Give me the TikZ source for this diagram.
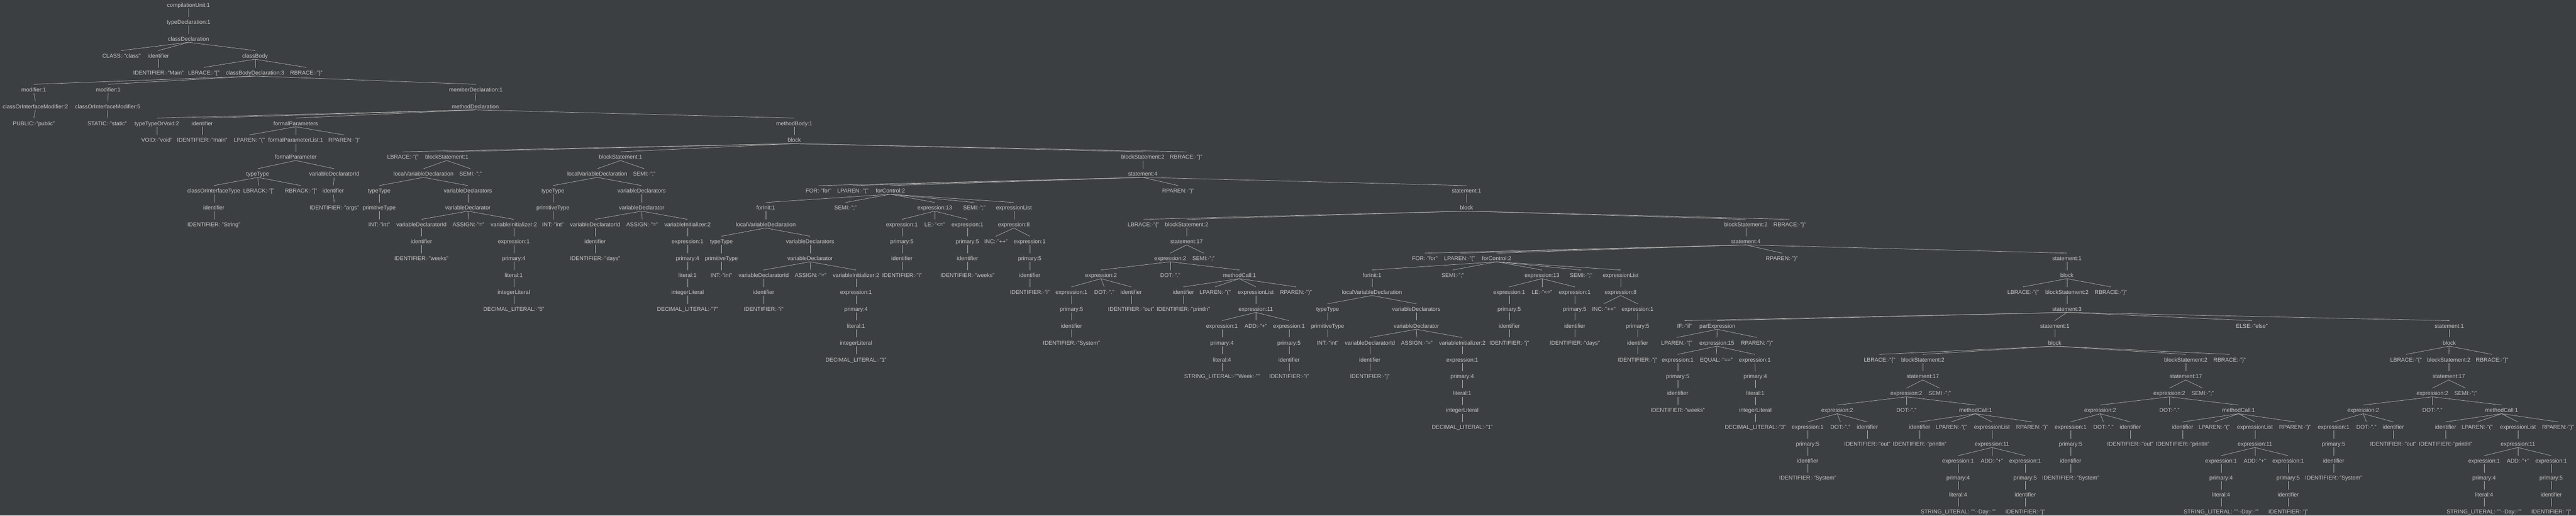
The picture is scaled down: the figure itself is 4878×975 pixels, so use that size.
\documentclass[tikz,border=0pt]{standalone}
\usepackage{fontspec}
\setmainfont{Liberation Sans}
\definecolor{bgcol}{HTML}{3C3F41}
\definecolor{txtcol}{HTML}{C4C4C4}
\definecolor{edgecol}{HTML}{B0B0B0}
\tikzset{
  tn/.style={font=\fontsize{10.6}{12}\selectfont, text=txtcol, anchor=base, inner sep=0pt, text height=13.5pt, text depth=2.5pt},
  ed/.style={draw=edgecol, line width=0.7pt}
}
\newcommand\tnd[4]{\node[tn] (#1) at ({#2},{ly(#3)}) {#4};}
\newcommand\edg[2]{\draw[ed] (#1.south) -- (#2.north);}
\newcommand\tkc[5]{\tnd{#1}{#2}{#3}{#4}\edg{#5}{#1}}
% localVariableDeclaration subtree: prefix, parent, level, x, id text, value text
\newcommand\mkdecl[6]{%
 \tkc{#1l}{#4}{#3}{localVariableDeclaration}{#2}
 \tkc{#1t}{#4-84}{#3+1}{typeType}{#1l}
 \tkc{#1v}{#4+84}{#3+1}{variableDeclarators}{#1l}
 \tkc{#1pt}{#4-84}{#3+2}{primitiveType}{#1t}
 \tkc{#1vd}{#4+84}{#3+2}{variableDeclarator}{#1v}
 \tkc{#1int}{#4-84}{#3+3}{INT:·"int"}{#1pt}
 \tkc{#1vdi}{#4-4}{#3+3}{variableDeclaratorId}{#1vd}
 \tkc{#1as}{#4+85}{#3+3}{ASSIGN:·"="}{#1vd}
 \tkc{#1vi}{#4+171}{#3+3}{variableInitializer:2}{#1vd}
 \tkc{#1id}{#4-4}{#3+4}{identifier}{#1vdi}
 \tkc{#1e}{#4+171}{#3+4}{expression:1}{#1vi}
 \tkc{#1idt}{#4-4}{#3+5}{#5}{#1id}
 \tkc{#1p}{#4+171}{#3+5}{primary:4}{#1e}
 \tkc{#1li}{#4+171}{#3+6}{literal:1}{#1p}
 \tkc{#1il}{#4+171}{#3+7}{integerLiteral}{#1li}
 \tkc{#1dec}{#4+171}{#3+8}{#6}{#1il}
}
% System.out.println(...) statement subtree: prefix, parent, level, x, string, var
\newcommand\mkprint[6]{%
 \tkc{#1s}{#4}{#3}{statement:17}{#2}
 \tkc{#1e}{#4-31}{#3+1}{expression:2}{#1s}
 \tkc{#1sm}{#4+32}{#3+1}{SEMI:·";"}{#1s}
 \tkc{#1x}{#4-162}{#3+2}{expression:2}{#1e}
 \tkc{#1d}{#4-31}{#3+2}{DOT:·"."}{#1e}
 \tkc{#1m}{#4+100}{#3+2}{methodCall:1}{#1e}
 \tkc{#1xa}{#4-218}{#3+3}{expression:1}{#1x}
 \tkc{#1xd}{#4-156}{#3+3}{DOT:·"."}{#1x}
 \tkc{#1xi}{#4-105}{#3+3}{identifier}{#1x}
 \tkc{#1mi}{#4-6}{#3+3}{identifier}{#1m}
 \tkc{#1ml}{#4+54}{#3+3}{LPAREN:·"("}{#1m}
 \tkc{#1me}{#4+131}{#3+3}{expressionList}{#1m}
 \tkc{#1mr}{#4+207}{#3+3}{RPAREN:·")"}{#1m}
 \tkc{#1xap}{#4-218}{#3+4}{primary:5}{#1xa}
 \tkc{#1xit}{#4-105}{#3+4}{IDENTIFIER:·"out"}{#1xi}
 \tkc{#1mit}{#4-6}{#3+4}{IDENTIFIER:·"println"}{#1mi}
 \tkc{#1mee}{#4+131}{#3+4}{expression:11}{#1me}
 \tkc{#1xapi}{#4-218}{#3+5}{identifier}{#1xap}
 \tkc{#1a}{#4+67}{#3+5}{expression:1}{#1mee}
 \tkc{#1ad}{#4+131}{#3+5}{ADD:·"+"}{#1mee}
 \tkc{#1b}{#4+194}{#3+5}{expression:1}{#1mee}
 \tkc{#1sys}{#4-218}{#3+6}{IDENTIFIER:·"System"}{#1xapi}
 \tkc{#1ap}{#4+67}{#3+6}{primary:4}{#1a}
 \tkc{#1bp}{#4+194}{#3+6}{primary:5}{#1b}
 \tkc{#1al}{#4+67}{#3+7}{literal:4}{#1ap}
 \tkc{#1bi}{#4+194}{#3+7}{identifier}{#1bp}
 \tkc{#1str}{#4+67}{#3+8}{#5}{#1al}
 \tkc{#1var}{#4+194}{#3+8}{#6}{#1bi}
}
\begin{document}
\begin{tikzpicture}[x=1pt,y=-1pt,declare function={ly(\k)=13.5+31.93*\k;}]
\fill[bgcol] (0,0) rectangle (4878,975);
\useasboundingbox (0,0) rectangle (4878,975);
\tnd{n0}{357}{0}{compilationUnit:1}
\tkc{n1}{357}{1}{typeDeclaration:1}{n0}
\tkc{n2}{357}{2}{classDeclaration}{n1}
\tkc{cls}{230}{3}{CLASS:·"class"}{n2}
\tkc{cid}{300}{3}{identifier}{n2}
\tkc{cbody}{483}{3}{classBody}{n2}
\tkc{cidT}{300}{4}{IDENTIFIER:·"Main"}{cid}
\tkc{cbL}{386}{4}{LBRACE:·"\{"}{cbody}
\tkc{cbd}{483}{4}{classBodyDeclaration:3}{cbody}
\tkc{cbR}{580}{4}{RBRACE:·"\}"}{cbody}
\tkc{mod1}{64}{5}{modifier:1}{cbd}
\tkc{mod2}{205}{5}{modifier:1}{cbd}
\tkc{memb}{901}{5}{memberDeclaration:1}{cbd}
\tkc{coim1}{67}{6}{classOrInterfaceModifier:2}{mod1}
\tkc{coim2}{204}{6}{classOrInterfaceModifier:5}{mod2}
\tkc{mdecl}{900}{6}{methodDeclaration}{memb}
\tkc{pub}{64}{7}{PUBLIC:·"public"}{coim1}
\tkc{sta}{203}{7}{STATIC:·"static"}{coim2}
\tkc{ttv}{297}{7}{typeTypeOrVoid:2}{mdecl}
\tkc{mid}{383}{7}{identifier}{mdecl}
\tkc{fps}{560}{7}{formalParameters}{mdecl}
\tkc{mbody}{1504}{7}{methodBody:1}{mdecl}
\tkc{voidT}{297}{8}{VOID:·"void"}{ttv}
\tkc{midT}{383}{8}{IDENTIFIER:·"main"}{mid}
\tkc{fpL}{472}{8}{LPAREN:·"("}{fps}
\tkc{fpl}{560}{8}{formalParameterList:1}{fps}
\tkc{fpR}{652}{8}{RPAREN:·")"}{fps}
\tkc{blk}{1504}{8}{block}{mbody}
\tkc{fp}{560}{9}{formalParameter}{fpl}
\tkc{bL}{763}{9}{LBRACE:·"\{"}{blk}
\tkc{bs1}{846}{9}{blockStatement:1}{blk}
\tkc{bs2}{1175}{9}{blockStatement:1}{blk}
\tkc{bs3}{2164}{9}{blockStatement:2}{blk}
\tkc{bR}{2246}{9}{RBRACE:·"\}"}{blk}
\tkc{fpt}{488}{10}{typeType}{fp}
\tkc{fpv}{633}{10}{variableDeclaratorId}{fp}
\mkdecl{Da}{bs1}{10}{802}{IDENTIFIER:·"weeks"}{DECIMAL\_LITERAL:·"5"}
\tkc{semi1}{891}{10}{SEMI:·";"}{bs1}
\mkdecl{Db}{bs2}{10}{1131}{IDENTIFIER:·"days"}{DECIMAL\_LITERAL:·"7"}
\tkc{semi2}{1220}{10}{SEMI:·";"}{bs2}
\tkc{st4}{2164}{10}{statement:4}{bs3}
\tkc{coit}{405}{11}{classOrInterfaceType}{fpt}
\tkc{lbk}{490}{11}{LBRACK:·"["}{fpt}
\tkc{rbk}{570}{11}{RBRACK:·"]"}{fpt}
\tkc{fpvid}{631}{11}{identifier}{fpv}
\tkc{coitid}{405}{12}{identifier}{coit}
\tkc{argsT}{633}{12}{IDENTIFIER:·"args"}{fpvid}
\tkc{strT}{405}{13}{IDENTIFIER:·"String"}{coitid}
% outer for
\tkc{for1}{1550}{11}{FOR:·"for"}{st4}
\tkc{lp1}{1615}{11}{LPAREN:·"("}{st4}
\tkc{fc1}{1686}{11}{forControl:2}{st4}
\tkc{rp1}{2231}{11}{RPAREN:·")"}{st4}
\tkc{st1a}{2777}{11}{statement:1}{st4}
\tkc{fi1}{1450}{12}{forInit:1}{fc1}
\tkc{fs1}{1601}{12}{SEMI:·";"}{fc1}
\tkc{fe13}{1770}{12}{expression:13}{fc1}
\tkc{fs2}{1845}{12}{SEMI:·";"}{fc1}
\tkc{fel}{1920}{12}{expressionList}{fc1}
\tkc{blk2}{2777}{12}{block}{st1a}
\mkdecl{Dc}{fi1}{13}{1450}{IDENTIFIER:·"i"}{DECIMAL\_LITERAL:·"1"}
\tkc{fe1a}{1708}{13}{expression:1}{fe13}
\tkc{le1}{1770}{13}{LE:·"<="}{fe13}
\tkc{fe1b}{1832}{13}{expression:1}{fe13}
\tkc{fe8}{1920}{13}{expression:8}{fel}
\tkc{b2L}{2165}{13}{LBRACE:·"\{"}{blk2}
\tkc{bs4}{2247}{13}{blockStatement:2}{blk2}
\tkc{bs5}{3306}{13}{blockStatement:2}{blk2}
\tkc{b2R}{3389}{13}{RBRACE:·"\}"}{blk2}
\tkc{fe1ap}{1708}{14}{primary:5}{fe1a}
\tkc{fe1bp}{1832}{14}{primary:5}{fe1b}
\tkc{inc1}{1886}{14}{INC:·"++"}{fe8}
\tkc{fe8e}{1950}{14}{expression:1}{fe8}
\mkprint{Pa}{bs4}{14}{2247}{STRING\_LITERAL:·""Week:·""}{IDENTIFIER:·"i"}
\tkc{st4b}{3306}{14}{statement:4}{bs5}
\tkc{fe1api}{1708}{15}{identifier}{fe1ap}
\tkc{fe1bpi}{1832}{15}{identifier}{fe1bp}
\tkc{fe8ep}{1950}{15}{primary:5}{fe8e}
\tkc{iT1}{1708}{16}{IDENTIFIER:·"i"}{fe1api}
\tkc{wT2}{1832}{16}{IDENTIFIER:·"weeks"}{fe1bpi}
\tkc{fe8epi}{1950}{16}{identifier}{fe8ep}
\tkc{iT2}{1950}{17}{IDENTIFIER:·"i"}{fe8epi}
% inner for
\tkc{for2}{2698}{15}{FOR:·"for"}{st4b}
\tkc{lp2}{2764}{15}{LPAREN:·"("}{st4b}
\tkc{fc2}{2834}{15}{forControl:2}{st4b}
\tkc{rp2}{3374}{15}{RPAREN:·")"}{st4b}
\tkc{st1b}{3914}{15}{statement:1}{st4b}
\tkc{fi2}{2598}{16}{forInit:1}{fc2}
\tkc{fs3}{2751}{16}{SEMI:·";"}{fc2}
\tkc{fe13b}{2920}{16}{expression:13}{fc2}
\tkc{fs4}{2994}{16}{SEMI:·";"}{fc2}
\tkc{fel2}{3069}{16}{expressionList}{fc2}
\tkc{blk3}{3914}{16}{block}{st1b}
\mkdecl{Dd}{fi2}{17}{2598}{IDENTIFIER:·"j"}{DECIMAL\_LITERAL:·"1"}
\tkc{fe1c}{2858}{17}{expression:1}{fe13b}
\tkc{le2}{2920}{17}{LE:·"<="}{fe13b}
\tkc{fe1d}{2982}{17}{expression:1}{fe13b}
\tkc{fe8b}{3069}{17}{expression:8}{fel2}
\tkc{b3L}{3831}{17}{LBRACE:·"\{"}{blk3}
\tkc{bs6}{3914}{17}{blockStatement:2}{blk3}
\tkc{b3R}{3997}{17}{RBRACE:·"\}"}{blk3}
\tkc{fe1cp}{2858}{18}{primary:5}{fe1c}
\tkc{fe1dp}{2982}{18}{primary:5}{fe1d}
\tkc{inc2}{3037}{18}{INC:·"++"}{fe8b}
\tkc{fe8be}{3101}{18}{expression:1}{fe8b}
\tkc{st3}{3914}{18}{statement:3}{bs6}
\tkc{fe1cpi}{2858}{19}{identifier}{fe1cp}
\tkc{fe1dpi}{2982}{19}{identifier}{fe1dp}
\tkc{fe8bep}{3101}{19}{primary:5}{fe8be}
\tkc{ifT}{3190}{19}{IF:·"if"}{st3}
\tkc{parx}{3252}{19}{parExpression}{st3}
\tkc{st1c}{3891}{19}{statement:1}{st3}
\tkc{elseT}{4264}{19}{ELSE:·"else"}{st3}
\tkc{st1d}{4638}{19}{statement:1}{st3}
\tkc{jT1}{2858}{20}{IDENTIFIER:·"j"}{fe1cpi}
\tkc{dT2}{2982}{20}{IDENTIFIER:·"days"}{fe1dpi}
\tkc{fe8bepi}{3101}{20}{identifier}{fe8bep}
\tkc{pxL}{3175}{20}{LPAREN:·"("}{parx}
\tkc{e15}{3251}{20}{expression:15}{parx}
\tkc{pxR}{3327}{20}{RPAREN:·")"}{parx}
\tkc{blk4}{3891}{20}{block}{st1c}
\tkc{blk5}{4638}{20}{block}{st1d}
\tkc{jT2}{3101}{21}{IDENTIFIER:·"j"}{fe8bepi}
\tkc{e15a}{3177}{21}{expression:1}{e15}
\tkc{eqT}{3250}{21}{EQUAL:·"=="}{e15}
\tkc{e15b}{3323}{21}{expression:1}{e15}
\tkc{b4L}{3559}{21}{LBRACE:·"\{"}{blk4}
\tkc{bs7}{3641}{21}{blockStatement:2}{blk4}
\tkc{bs8}{4139}{21}{blockStatement:2}{blk4}
\tkc{b4R}{4222}{21}{RBRACE:·"\}"}{blk4}
\tkc{b5L}{4556}{21}{LBRACE:·"\{"}{blk5}
\tkc{bs9}{4637}{21}{blockStatement:2}{blk5}
\tkc{b5R}{4719}{21}{RBRACE:·"\}"}{blk5}
\tkc{e15ap}{3177}{22}{primary:5}{e15a}
\tkc{e15bp}{3324}{22}{primary:4}{e15b}
\tkc{e15api}{3177}{23}{identifier}{e15ap}
\tkc{e15bpl}{3324}{23}{literal:1}{e15bp}
\tkc{wT3}{3177}{24}{IDENTIFIER:·"weeks"}{e15api}
\tkc{e15bpli}{3324}{24}{integerLiteral}{e15bpl}
\tkc{dec3}{3324}{25}{DECIMAL\_LITERAL:·"3"}{e15bpli}
\mkprint{Pc}{bs7}{22}{3641}{STRING\_LITERAL:·""··Day:·""}{IDENTIFIER:·"j"}
\mkprint{Pe}{bs8}{22}{4139}{STRING\_LITERAL:·""··Day:·""}{IDENTIFIER:·"j"}
\mkprint{Pg}{bs9}{22}{4637}{STRING\_LITERAL:·""··Day:·""}{IDENTIFIER:·"j"}
\end{tikzpicture}
\end{document}
